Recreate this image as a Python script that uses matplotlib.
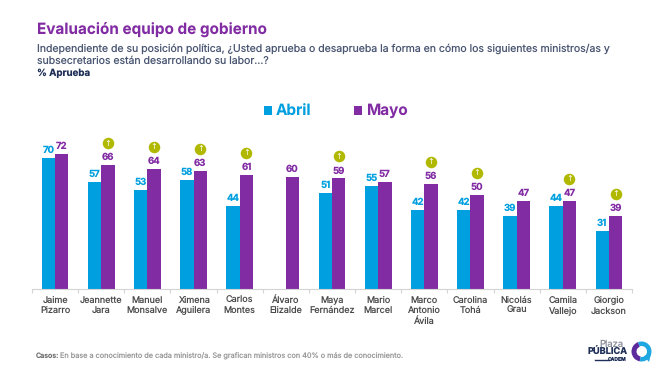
import matplotlib
matplotlib.use("Agg")
import matplotlib.pyplot as plt
from matplotlib.patches import Rectangle, Wedge, Polygon
from matplotlib.transforms import ScaledTranslation
import numpy as np

W, H = 667, 371
BLUE = "#009FDF"
PURPLE = "#822CA4"
NAVY = "#1F2F57"
SLATE = "#4A5672"
OLIVE = "#B0B800"

categories = ["Jaime\nPizarro", "Jeannette\nJara", "Manuel\nMonsalve", "Ximena\nAguilera",
              "Carlos\nMontes", "Álvaro\nElizalde", "Maya\nFernández", "Mario\nMarcel",
              "Marco\nAntonio\nÁvila", "Carolina\nTohá", "Nicolás\nGrau", "Camila\nVallejo",
              "Giorgio\nJackson"]
abril = [70, 57, 53, 58, 44, None, 51, 55, 42, 42, 39, 44, 31]
mayo = [72, 66, 64, 63, 61, 60, 59, 57, 56, 50, 47, 47, 39]
sube = [False, True, True, True, True, False, True, False, True, True, False, True, True]

plt.rcParams["font.family"] = ["Inter", "DejaVu Sans"]
plt.rcParams["text.hinting"] = "no_hinting"
plt.rcParams["text.hinting_factor"] = 1
fig = plt.figure(figsize=(W / 100, H / 100), dpi=100, facecolor="white")

# plot area
x0, x1, ytop, ybot = 32, 632, 130, 288.5
ax = fig.add_axes([x0 / W, 1 - ybot / H, (x1 - x0) / W, (ybot - ytop) / H])
ax.set_xlim(-0.5, len(categories) - 0.5)
ax.set_ylim(0, (ybot - ytop) / 1.866)
ax.patch.set_alpha(0)
for s in ["top", "left", "right"]:
    ax.spines[s].set_visible(False)
ax.spines["bottom"].set_color("#D4D4D4")
ax.spines["bottom"].set_linewidth(0.8)
ax.set_yticks([])
ax.set_xticks(np.arange(-0.5, len(categories)), minor=True)
ax.set_xticks(np.arange(len(categories)))
ax.set_xticklabels(categories, fontsize=6.5, color="#4A4A4A", linespacing=1.2)
ax.tick_params(axis="x", which="major", length=0, pad=5.6)
ax.tick_params(axis="x", which="minor", length=3, width=0.8, color="#D4D4D4", direction="out")

bw = 0.29
marker_shift = ScaledTranslation(0, 22 / 100, fig.dpi_scale_trans)
for i, (a, m) in enumerate(zip(abril, mayo)):
    if a is not None:
        ax.bar(i - bw / 2, a, bw, color=BLUE)
        ax.annotate(str(a), (i - bw / 2, a), xytext=(0, 2.2), textcoords="offset points",
                    ha="center", va="bottom", fontsize=6.9, fontweight="bold", color=BLUE)
    ax.bar(i + bw / 2, m, bw, color=PURPLE)
    ax.annotate(str(m), (i + bw / 2, m), xytext=(0, 2.2), textcoords="offset points",
                ha="center", va="bottom", fontsize=6.9, fontweight="bold", color=PURPLE)
    if sube[i]:
        ax.plot([i + bw / 2], [m], marker="o", ms=8.3, color=OLIVE, mew=0, clip_on=False,
                transform=ax.transData + marker_shift)
        ax.annotate("↑", (i + bw / 2, m), xytext=(0, 15.8), textcoords="offset points",
                    ha="center", va="center", fontsize=5.5, color="white", family="DejaVu Sans")

# page overlay in pixel coordinates
pg = fig.add_axes([0, 0, 1, 1], zorder=5)
pg.set_xlim(0, W)
pg.set_ylim(H, 0)
pg.axis("off")
pg.patch.set_alpha(0)

pg.text(37, 29, "Evaluación equipo de gobierno", fontsize=11, fontweight="bold",
        color=PURPLE, va="center")
pg.text(37, 48.5, "Independiente de su posición política, ¿Usted aprueba o desaprueba la forma en cómo los siguientes ministros/as y",
        fontsize=7.55, color=SLATE, va="center")
pg.text(37, 61, "subsecretarios están desarrollando su labor...?", fontsize=7.55, color=SLATE, va="center")
pg.text(37, 73, "% Aprueba", fontsize=7.0, fontweight="bold", color=NAVY, va="center")

# legend
pg.add_patch(Rectangle((264, 106), 8, 8.5, color=BLUE, lw=0))
pg.text(276, 110.8, "Abril", fontsize=11, fontweight="bold", color=BLUE, va="center")
pg.add_patch(Rectangle((354, 106), 8, 8.5, color=PURPLE, lw=0))
pg.text(366, 110.8, "Mayo", fontsize=11, fontweight="bold", color=PURPLE, va="center")

# footer
pg.text(36, 356, "Casos:", fontsize=5.1, color="#6A6A6A", va="center", fontweight="medium")
pg.text(59.5, 356, "En base a conocimiento de cada ministro/a. Se grafican ministros con 40% o más de conocimiento.",
        fontsize=5.25, color="#9A9A9A", va="center")

# logo
pg.text(623, 344, "Plaza", fontsize=6.8, color="#8A8F9C", ha="right", va="center")
pg.text(628, 352.5, "PÚBLICA", fontsize=6.6, fontweight="bold", color=NAVY, ha="right", va="center")
pg.text(627, 359.3, "CADEM", fontsize=3.6, fontweight="bold", color=NAVY, ha="right", va="center")
pg.plot([595, 609], [359.5, 359.5], color=NAVY, lw=1.0)
cx, cy = 641.5, 351.5
pg.add_patch(Wedge((cx, cy), 10, 100, 250, width=5, color="#5B2A9D", lw=0))
pg.add_patch(Wedge((cx, cy), 10, 250, 100, width=4.5, color="#1EA7E0", lw=0))
pg.add_patch(Polygon([[644, 356], [651, 354], [649, 362]], color="#1EA7E0", lw=0))

fig.savefig("out.png", dpi=100, facecolor="white")
